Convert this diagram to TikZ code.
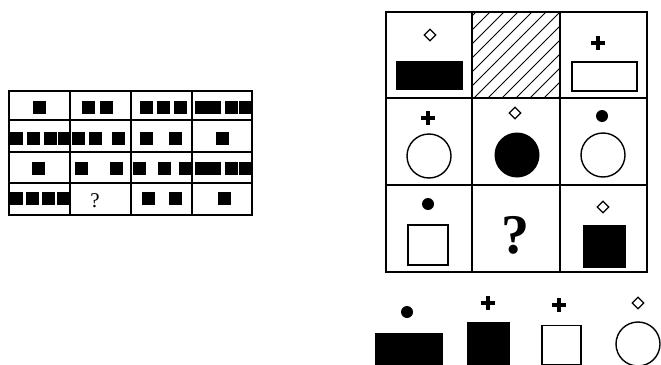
\documentclass[tikz,border=0pt]{standalone}
\usepackage{tikz}
\usetikzlibrary{shapes.geometric}
\usepackage{fontspec}
\setmainfont{Liberation Serif}

\begin{document}
\begin{tikzpicture}[x=1pt, y=-1pt,
    thingrid/.style={line width=1.4pt},
    thickgrid/.style={line width=2.6pt},
    blkbox/.style={rectangle, fill=black, draw=black, line width=1pt, inner sep=0pt},
    whtbox/.style={rectangle, fill=white, draw=black, line width=1.6pt, inner sep=0pt},
    ring/.style={circle, draw=black, line width=1.4pt, minimum size=44pt, inner sep=0pt},
    disc/.style={circle, fill=black, minimum size=45pt, inner sep=0pt},
    dotsign/.style={circle, fill=black, minimum size=12pt, inner sep=0pt},
    diamsign/.style={diamond, draw=black, line width=1.2pt, minimum size=12pt, inner sep=0pt},
    crossbar/.style={line width=3.8pt},
    sq/.style={fill=black}
  ]
  \useasboundingbox (0,0) rectangle (661,364);

  % Left grid of squares
  \foreach \yy/\xlist in {101/{33,82,100,140,157,174,195,208,225,239},
                          132/{10,27,44,58,72,89,112,140,169,216},
                          162/{32,75,110,133,158,179,195,208,225,239},
                          192/{10,26,42,57,142,169,218}} {
    \foreach \xx in \xlist {
      \fill[sq] (\xx,\yy) rectangle ++(13,13);
    }
  }
  \draw[thingrid] (9,91) rectangle (252,215);
  \foreach \xx in {70,131,192} \draw[thingrid] (\xx,91) -- (\xx,215);
  \foreach \yy in {120,152,183} \draw[thingrid] (9,\yy) -- (252,\yy);
  \node[font=\fontsize{21}{21}\selectfont, inner sep=0pt] (lq) at (95,201) {?};

  % Hatched cell
  \begin{scope}
    \clip (472,12) rectangle (560,98);
    \foreach \k in {0,...,13} \draw[line width=1pt] (376+14*\k,98) -- (462+14*\k,12);
  \end{scope}

  % Right grid
  \draw[thickgrid] (386,12) rectangle (647,272);
  \foreach \xx in {472,560} \draw[thickgrid] (\xx,12) -- (\xx,272);
  \foreach \yy in {98,185} \draw[thickgrid] (386,\yy) -- (647,\yy);

  % Row 1
  \node[diamsign] (d11) at (430,35) {};
  \node[blkbox, minimum width=66pt, minimum height=28pt] (r11) at (429,75) {};
  \draw[crossbar] (591,43) -- (605,43) (598,36) -- (598,50);
  \node[whtbox, minimum width=65pt, minimum height=29pt] (r13) at (604.5,76.5) {};

  % Row 2
  \draw[crossbar] (421,118) -- (435,118) (428,111) -- (428,125);
  \node[ring] (c21) at (429,156) {};
  \node[diamsign] (d22) at (515,113) {};
  \node[disc] (c22) at (517,155) {};
  \node[dotsign] (p23) at (602,116) {};
  \node[ring] (c23) at (603,155) {};

  % Row 3
  \node[dotsign] (p31) at (428,204) {};
  \node[whtbox, minimum size=40pt] (s31) at (428,245) {};
  \node[font=\fontsize{56}{56}\selectfont\bfseries, inner sep=0pt] (rq) at (515,235) {?};
  \node[diamsign] (d33) at (603,207) {};
  \node[blkbox, minimum size=42pt] (s33) at (604,246) {};

  % Answer options
  \node[dotsign] (pa) at (407,312) {};
  \node[blkbox, minimum width=67pt, minimum height=32pt] (ra) at (408.5,349) {};
  \draw[crossbar] (481,303) -- (495,303) (488,296) -- (488,310);
  \node[blkbox, minimum size=42pt] (sb) at (488,343) {};
  \draw[crossbar] (552,305) -- (566,305) (559,298) -- (559,312);
  \node[whtbox, minimum size=39pt] (sc) at (561.5,345) {};
  \node[diamsign] (dd) at (638,303) {};
  \node[ring] (cd) at (638,344) {};
\end{tikzpicture}
\end{document}
